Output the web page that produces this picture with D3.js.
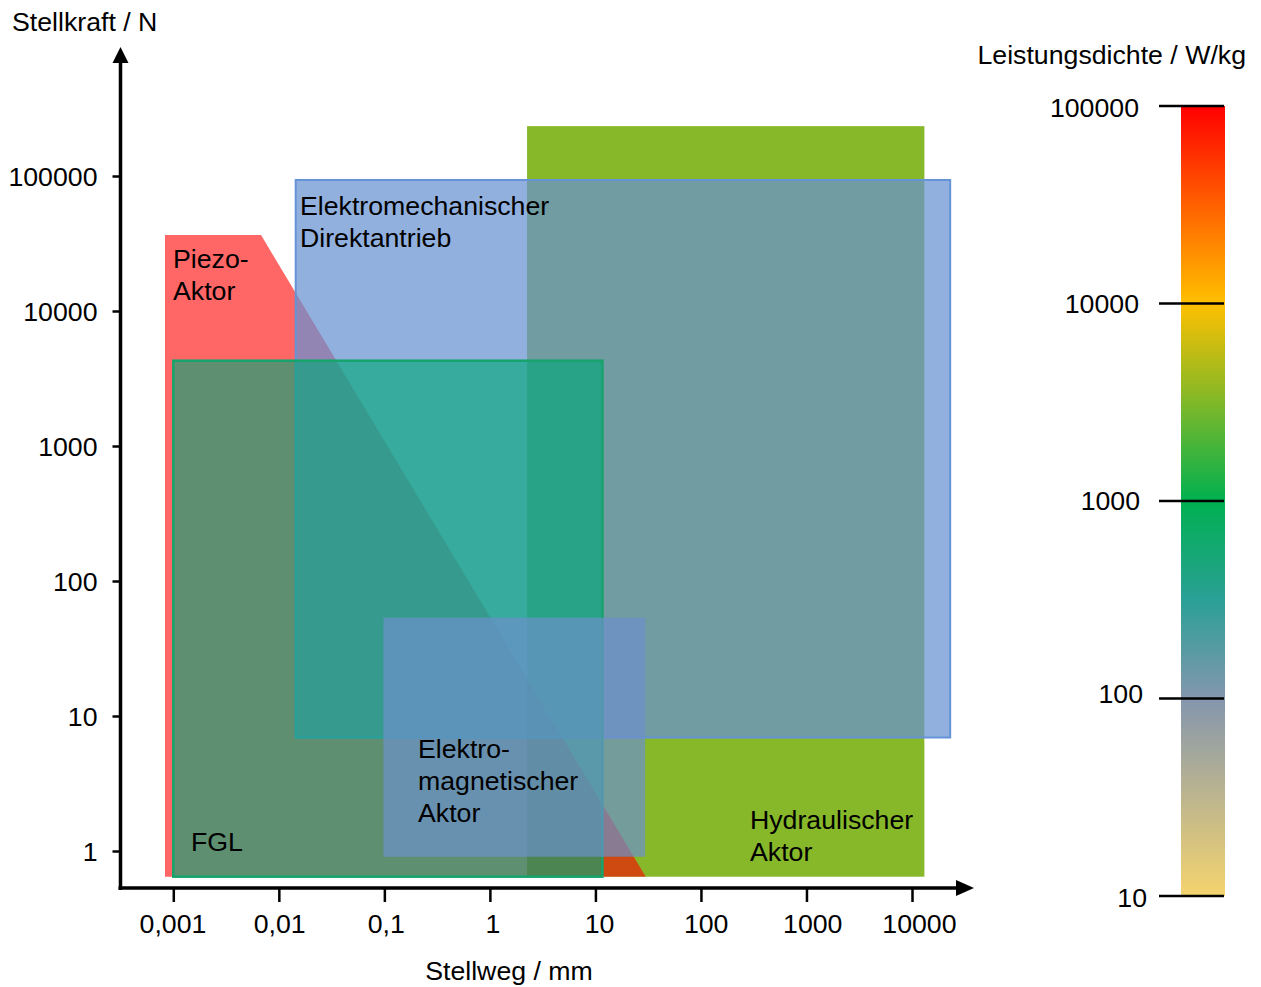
<!DOCTYPE html>
<html>
<head>
<meta charset="utf-8">
<script src="https://cdn.jsdelivr.net/npm/d3@7/dist/d3.min.js"></script>
<style>
  html, body { margin: 0; padding: 0; background: #fff; }
  svg text { font-family: "Liberation Sans", Arial, sans-serif; fill: #000; }
</style>
</head>
<body>
<svg id="chart" width="1261" height="987"></svg>
<script>
// ---------------- data ----------------
const xTickValues = [0.001, 0.01, 0.1, 1, 10, 100, 1000, 10000];
const xTickLabels = ["0,001", "0,01", "0,1", "1", "10", "100", "1000", "10000"];
const yTickValues = [1, 10, 100, 1000, 10000, 100000];
const yTickLabels = ["1", "10", "100", "1000", "10000", "100000"];
const cbTickValues = [100000, 10000, 1000, 100, 10];
const cbTickLabels = ["100000", "10000", "1000", "100", "10"];

// Actuator regions: [Stellweg min, Stellweg max], [Stellkraft min, Stellkraft max]
const hydraulicX = [2.25, 13100];
const hydraulicY = [0.645, 234000];
const piezoPoly = [[0.000834, 0.645], [0.000834, 36500], [0.00678, 36500], [30.0, 0.645]];
const direktX = [0.01445, 23000];
const direktY = [6.93, 93400];
const fglX = [0.001, 11.65];
const fglY = [0.645, 4285];
const emX = [0.098, 29.6];
const emY = [0.907, 53.5];

// Colour bar stops (Leistungsdichte W/kg -> colour)
const cbStopValues = [100000, 10000, 1000, 316, 100, 10];
const cbStopColors = ["#ff0000", "#ffc000", "#00b050", "#2aa096", "#8496ae", "#f5d46e"];

// ---------------- layout ----------------
const FONT = 26.7;
const svg = d3.select("#chart");
const x = d3.scaleLog().domain([0.001, 10000]).range([173.3, 912]);
const y = d3.scaleLog().domain([1, 100000]).range([851, 176]);
const cy = d3.scaleLog().domain([10, 100000]).range([896, 106]);
const axisX = 120.5, axisY = 888;

// ---------------- regions ----------------
const g = svg.append("g");
function rect(xs, ys) {
  return g.append("rect")
    .attr("x", x(xs[0])).attr("width", x(xs[1]) - x(xs[0]))
    .attr("y", y(ys[1])).attr("height", y(ys[0]) - y(ys[1]));
}
rect(hydraulicX, hydraulicY).attr("fill", "#86b82a");
g.append("path")
  .attr("d", d3.line().x(d => x(d[0])).y(d => y(d[1]))(piezoPoly) + "Z")
  .attr("fill", "#ff0000").attr("fill-opacity", 0.6);
rect(direktX, direktY).attr("fill", "rgb(104,145,209)").attr("fill-opacity", 0.72)
  .attr("stroke", "#6494d6").attr("stroke-width", 2);
rect(fglX, fglY).attr("fill", "rgb(0,168,120)").attr("fill-opacity", 0.63)
  .attr("stroke", "#16a46c").attr("stroke-width", 2.5);
rect(emX, emY).attr("fill", "rgb(108,144,203)").attr("fill-opacity", 0.7);

// ---------------- region labels ----------------
const labels = [
  { lines: ["Piezo-", "Aktor"], x: 173, y: 267.5 },
  { lines: ["Elektromechanischer", "Direktantrieb"], x: 300, y: 215 },
  { lines: ["Elektro-", "magnetischer", "Aktor"], x: 418, y: 757.5 },
  { lines: ["FGL"], x: 191, y: 850.5 },
  { lines: ["Hydraulischer", "Aktor"], x: 750, y: 829 }
];
labels.forEach(l => {
  const t = svg.append("text").attr("x", l.x).attr("y", l.y).style("font-size", FONT + "px");
  l.lines.forEach((s, i) => t.append("tspan").attr("x", l.x).attr("dy", i === 0 ? 0 : 32).text(s));
});

// ---------------- axes ----------------
const yAxis = d3.axisLeft(y).tickValues(yTickValues).tickSize(8).tickPadding(15)
  .tickFormat((d, i) => yTickLabels[i]);
const ya = svg.append("g").attr("transform", `translate(${axisX},0)`).call(yAxis);
ya.select(".domain").remove();
ya.selectAll(".tick line").attr("stroke", "#000").attr("stroke-width", 2.5);
ya.selectAll(".tick text").style("font-size", FONT + "px").attr("font-family", null)
  .attr("dy", "0.35em");

const xAxis = d3.axisBottom(x).tickValues(xTickValues).tickSize(14).tickPadding(10)
  .tickFormat((d, i) => xTickLabels[i]);
const xa = svg.append("g").attr("transform", `translate(0,${axisY})`).call(xAxis);
xa.select(".domain").remove();
xa.selectAll(".tick line").attr("stroke", "#000").attr("stroke-width", 2.5);
xa.selectAll(".tick text").style("font-size", FONT + "px").attr("font-family", null)
  .attr("dy", null).attr("y", 45).attr("dx", (d, i) => i * 1.1 - 0.8);

// axis lines with arrows
svg.append("line").attr("x1", axisX).attr("x2", axisX).attr("y1", axisY + 2).attr("y2", 60)
  .attr("stroke", "#000").attr("stroke-width", 3.5);
svg.append("path").attr("d", `M${axisX},47 L${axisX - 8},63 L${axisX + 8},63 Z`).attr("fill", "#000");
svg.append("line").attr("x1", axisX - 2).attr("x2", 958).attr("y1", axisY).attr("y2", axisY)
  .attr("stroke", "#000").attr("stroke-width", 3.5);
svg.append("path").attr("d", `M974,${axisY} L956,${axisY - 8} L956,${axisY + 8} Z`).attr("fill", "#000");

// axis titles
svg.append("text").attr("x", 12).attr("y", 31).style("font-size", FONT + "px").text("Stellkraft / N");
svg.append("text").attr("x", 509).attr("y", 980).attr("text-anchor", "middle")
  .style("font-size", FONT + "px").text("Stellweg / mm");
svg.append("text").attr("x", 1246).attr("y", 64).attr("text-anchor", "end")
  .style("font-size", FONT + "px").text("Leistungsdichte / W/kg");

// ---------------- colour bar ----------------
const defs = svg.append("defs");
const grad = defs.append("linearGradient").attr("id", "cbgrad")
  .attr("x1", 0).attr("x2", 0).attr("y1", 0).attr("y2", 1);
const cbTop = cy(100000), cbBot = cy(10);
cbStopValues.forEach((v, i) => {
  grad.append("stop").attr("offset", (cy(v) - cbTop) / (cbBot - cbTop)).attr("stop-color", cbStopColors[i]);
});
svg.append("rect").attr("x", 1181).attr("width", 44).attr("y", cbTop).attr("height", cbBot - cbTop)
  .attr("fill", "url(#cbgrad)");
const cbDx = [-2, -2, -1, 2, 6];
const cbDy = [11, 9, 9, 4, 11];
cbTickValues.forEach((v, i) => {
  svg.append("line").attr("x1", 1159).attr("x2", 1224).attr("y1", cy(v)).attr("y2", cy(v))
    .attr("stroke", "#000").attr("stroke-width", 2.5);
  svg.append("text").attr("x", 1141 + cbDx[i]).attr("y", cy(v) + cbDy[i]).attr("text-anchor", "end")
    .style("font-size", FONT + "px").text(cbTickLabels[i]);
});
</script>
</body>
</html>
